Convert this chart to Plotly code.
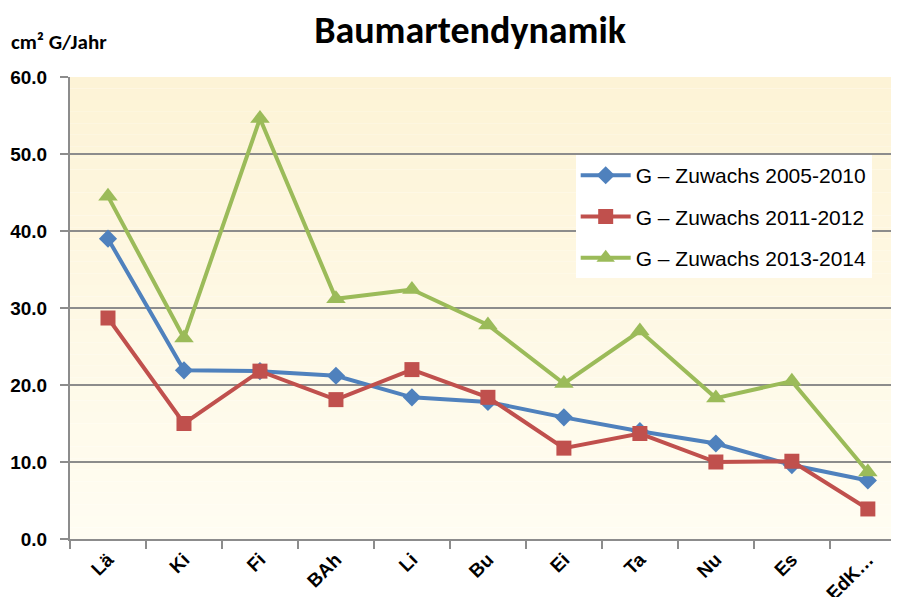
import plotly.graph_objects as go

categories = ["Lä", "Ki", "Fi", "BAh", "Li", "Bu", "Ei", "Ta", "Nu", "Es", "EdK…"]
g_2005_2010 = [39.0, 21.9, 21.8, 21.2, 18.4, 17.8, 15.8, 14.0, 12.4, 9.6, 7.6]
g_2011_2012 = [28.7, 15.0, 21.8, 18.1, 22.0, 18.4, 11.8, 13.7, 10.0, 10.1, 3.9]
g_2013_2014 = [44.5, 26.1, 54.6, 31.2, 32.4, 27.8, 20.2, 27.0, 18.3, 20.5, 8.7]
series_names = ["G – Zuwachs 2005-2010", "G – Zuwachs 2011-2012", "G – Zuwachs 2013-2014"]
y_ticks = [0, 10, 20, 30, 40, 50, 60]

colors = ["#4F81BD", "#C0504D", "#9BBB59"]
symbols = ["diamond", "square", "triangle-up"]
sizes = [14, 15, 17]

fig = go.Figure()
for i, (name, vals, c, s, sz) in enumerate(zip(series_names, [g_2005_2010, g_2011_2012, g_2013_2014], colors, symbols, sizes)):
    fig.add_trace(go.Scatter(
        x=categories, y=vals, name=name, mode="lines+markers",
        legendgroup=f"g{i}",
        line=dict(color=c, width=4),
        marker=dict(symbol=s, size=sz, color=c),
    ))

# gradient background
shapes = []
n = 40
top = (253, 243, 214)
bot = (255, 253, 242)
for i in range(n):
    t = i / (n - 1)
    r = round(top[0] + (bot[0] - top[0]) * t)
    g = round(top[1] + (bot[1] - top[1]) * t)
    b = round(top[2] + (bot[2] - top[2]) * t)
    shapes.append(dict(type="rect", xref="paper", yref="paper", x0=0, x1=1,
                       y1=1 - i / n, y0=1 - (i + 1) / n, line=dict(width=0),
                       fillcolor=f"rgb({r},{g},{b})", layer="below"))

fig.update_layout(
    width=899, height=597,
    margin=dict(l=62, r=8, t=69, b=66, autoexpand=False),
    paper_bgcolor="white", plot_bgcolor="white",
    shapes=shapes,
    showlegend=True,
    legend=dict(x=0.61, y=0.831, xanchor="left", yanchor="top",
                bgcolor="white", borderwidth=0,
                font=dict(family="Arial", size=21, color="black"),
                itemwidth=50, tracegroupgap=11),
    title=dict(text="<b>Baumartendynamik</b>", x=0.514, xanchor="center", y=0.964, yanchor="middle",
               font=dict(family="Calibri, Carlito, Arial", size=38, color="black")),
    annotations=[dict(text="<b>cm² G/Jahr</b>", xref="paper", yref="paper", x=-0.073, y=1.076,
                      xanchor="left", yanchor="middle", showarrow=False,
                      font=dict(family="Calibri, Carlito, Arial", size=21, color="black"))],
)
fig.update_xaxes(
    type="category", range=[-0.5, 10.41], automargin=False,
    showgrid=False, showline=True, linecolor="#8C8C8C", linewidth=2,
    ticks="outside", ticklen=8, tickcolor="#8C8C8C", tickwidth=2,
    tickson="boundaries", tickangle=-45,
    tickfont=dict(family="Arial", size=19, color="black", weight="bold"),
)
fig.update_yaxes(
    range=[0, 60], tickvals=y_ticks, ticktext=[f"{v:.1f}" for v in y_ticks],
    automargin=False,
    showgrid=True, gridcolor="#8C8C8C", gridwidth=1.5,
    showline=True, linecolor="#8C8C8C", linewidth=2,
    ticks="outside", ticklen=8, tickcolor="#8C8C8C", tickwidth=2,
    zeroline=False, ticklabelstandoff=9,
    tickfont=dict(family="Arial", size=19, color="black", weight="bold"),
)
fig.write_html("out.html")
